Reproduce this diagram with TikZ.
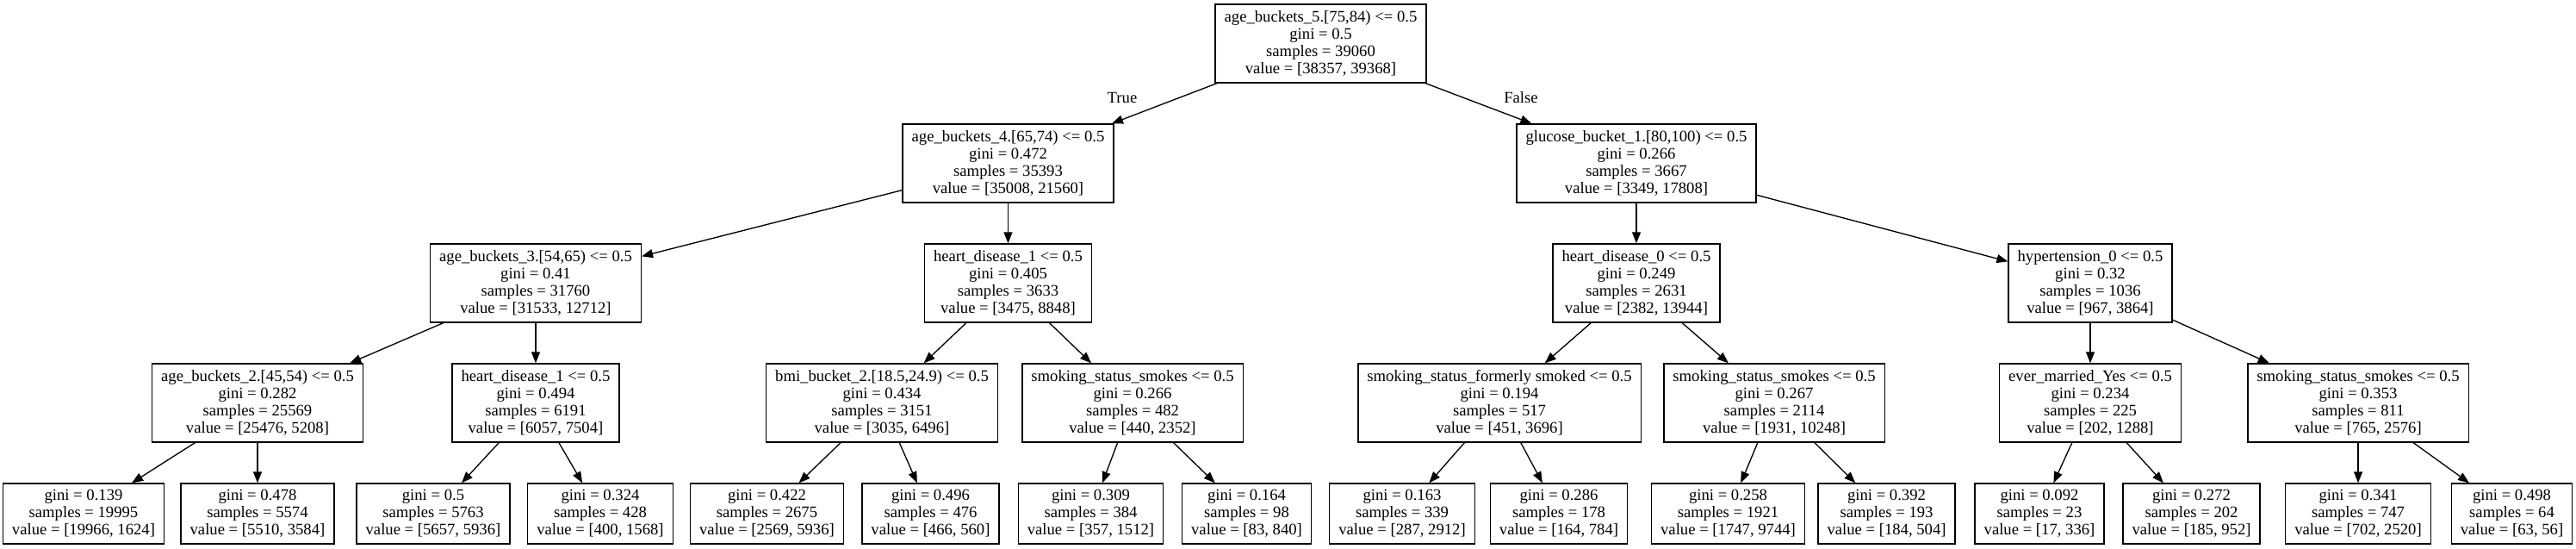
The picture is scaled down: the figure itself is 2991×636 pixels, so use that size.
\documentclass[tikz,border=0pt]{standalone}
\usepackage{fontspec}
\setmainfont{Liberation Serif}
\usetikzlibrary{arrows.meta}
\tikzset{
  tn/.style={draw, line width=1pt, rectangle, align=center,
    font=\fontsize{14}{15}\selectfont, inner xsep=7.92pt, inner ysep=0pt,
    minimum height=68.25pt},
  leaf/.style={tn, minimum height=52.5pt},
  edge/.style={line width=1pt, -{Triangle[length=9.75pt,width=7.5pt]}},
  lbl/.style={font=\fontsize{14}{15}\selectfont, inner sep=0pt}
}
\begin{document}
\begin{tikzpicture}[x=0.75pt,y=-0.75pt]
\useasboundingbox (0,0) rectangle (2991,636);
% level 0
\node[tn] (n0) at (1533.5,50.5) {age\_buckets\_5.[75,84) <= 0.5\\gini = 0.5\\samples = 39060\\value = [38357, 39368]};
% level 1
\node[tn] (n1) at (1170.5,189.5) {age\_buckets\_4.[65,74) <= 0.5\\gini = 0.472\\samples = 35393\\value = [35008, 21560]};
\node[tn] (n2) at (1900,189.5) {glucose\_bucket\_1.[80,100) <= 0.5\\gini = 0.266\\samples = 3667\\value = [3349, 17808]};
% level 2
\node[tn] (n3) at (622,328.5) {age\_buckets\_3.[54,65) <= 0.5\\gini = 0.41\\samples = 31760\\value = [31533, 12712]};
\node[tn] (n4) at (1170.5,328.5) {heart\_disease\_1 <= 0.5\\gini = 0.405\\samples = 3633\\value = [3475, 8848]};
\node[tn] (n5) at (1900,328.5) {heart\_disease\_0 <= 0.5\\gini = 0.249\\samples = 2631\\value = [2382, 13944]};
\node[tn] (n6) at (2427,328.5) {hypertension\_0 <= 0.5\\gini = 0.32\\samples = 1036\\value = [967, 3864]};
% level 3
\node[tn] (n7) at (299,467.5) {age\_buckets\_2.[45,54) <= 0.5\\gini = 0.282\\samples = 25569\\value = [25476, 5208]};
\node[tn] (n8) at (622,467.5) {heart\_disease\_1 <= 0.5\\gini = 0.494\\samples = 6191\\value = [6057, 7504]};
\node[tn] (n9) at (1024,467.5) {bmi\_bucket\_2.[18.5,24.9) <= 0.5\\gini = 0.434\\samples = 3151\\value = [3035, 6496]};
\node[tn] (n10) at (1315,467.5) {smoking\_status\_smokes <= 0.5\\gini = 0.266\\samples = 482\\value = [440, 2352]};
\node[tn] (n11) at (1741,467.5) {smoking\_status\_formerly smoked <= 0.5\\gini = 0.194\\samples = 517\\value = [451, 3696]};
\node[tn] (n12) at (2060,467.5) {smoking\_status\_smokes <= 0.5\\gini = 0.267\\samples = 2114\\value = [1931, 10248]};
\node[tn] (n13) at (2427,467.5) {ever\_married\_Yes <= 0.5\\gini = 0.234\\samples = 225\\value = [202, 1288]};
\node[tn] (n14) at (2738,467.5) {smoking\_status\_smokes <= 0.5\\gini = 0.353\\samples = 811\\value = [765, 2576]};
% leaves
\node[leaf] (l1) at (97,596) {gini = 0.139\\samples = 19995\\value = [19966, 1624]};
\node[leaf] (l2) at (299,596) {gini = 0.478\\samples = 5574\\value = [5510, 3584]};
\node[leaf] (l3) at (503,596) {gini = 0.5\\samples = 5763\\value = [5657, 5936]};
\node[leaf] (l4) at (697,596) {gini = 0.324\\samples = 428\\value = [400, 1568]};
\node[leaf] (l5) at (890.5,596) {gini = 0.422\\samples = 2675\\value = [2569, 5936]};
\node[leaf] (l6) at (1080.5,596) {gini = 0.496\\samples = 476\\value = [466, 560]};
\node[leaf] (l7) at (1266.5,596) {gini = 0.309\\samples = 384\\value = [357, 1512]};
\node[leaf] (l8) at (1447.5,596) {gini = 0.164\\samples = 98\\value = [83, 840]};
\node[leaf] (l9) at (1628,596) {gini = 0.163\\samples = 339\\value = [287, 2912]};
\node[leaf] (l10) at (1810,596) {gini = 0.286\\samples = 178\\value = [164, 784]};
\node[leaf] (l11) at (2006.5,596) {gini = 0.258\\samples = 1921\\value = [1747, 9744]};
\node[leaf] (l12) at (2190.5,596) {gini = 0.392\\samples = 193\\value = [184, 504]};
\node[leaf] (l13) at (2368,596) {gini = 0.092\\samples = 23\\value = [17, 336]};
\node[leaf] (l14) at (2544.5,596) {gini = 0.272\\samples = 202\\value = [185, 952]};
\node[leaf] (l15) at (2738,596) {gini = 0.341\\samples = 747\\value = [702, 2520]};
\node[leaf] (l16) at (2916.5,596) {gini = 0.498\\samples = 64\\value = [63, 56]};
% edge labels
\node[lbl] (tTrue) at (1303,113) {True};
\node[lbl] (tFalse) at (1766,113) {False};
% edges
\draw[edge] (n0) -- (n1);
\draw[edge] (n0) -- (n2);
\draw[edge] (n1) -- (n3);
\draw[edge] (n1) -- (n4);
\draw[edge] (n2) -- (n5);
\draw[edge] (n2) -- (n6);
\draw[edge] (n3) -- (n7);
\draw[edge] (n3) -- (n8);
\draw[edge] (n4) -- (n9);
\draw[edge] (n4) -- (n10);
\draw[edge] (n5) -- (n11);
\draw[edge] (n5) -- (n12);
\draw[edge] (n6) -- (n13);
\draw[edge] (n6) -- (n14);
\draw[edge] (n7) -- (l1);
\draw[edge] (n7) -- (l2);
\draw[edge] (n8) -- (l3);
\draw[edge] (n8) -- (l4);
\draw[edge] (n9) -- (l5);
\draw[edge] (n9) -- (l6);
\draw[edge] (n10) -- (l7);
\draw[edge] (n10) -- (l8);
\draw[edge] (n11) -- (l9);
\draw[edge] (n11) -- (l10);
\draw[edge] (n12) -- (l11);
\draw[edge] (n12) -- (l12);
\draw[edge] (n13) -- (l13);
\draw[edge] (n13) -- (l14);
\draw[edge] (n14) -- (l15);
\draw[edge] (n14) -- (l16);
\end{tikzpicture}
\end{document}
